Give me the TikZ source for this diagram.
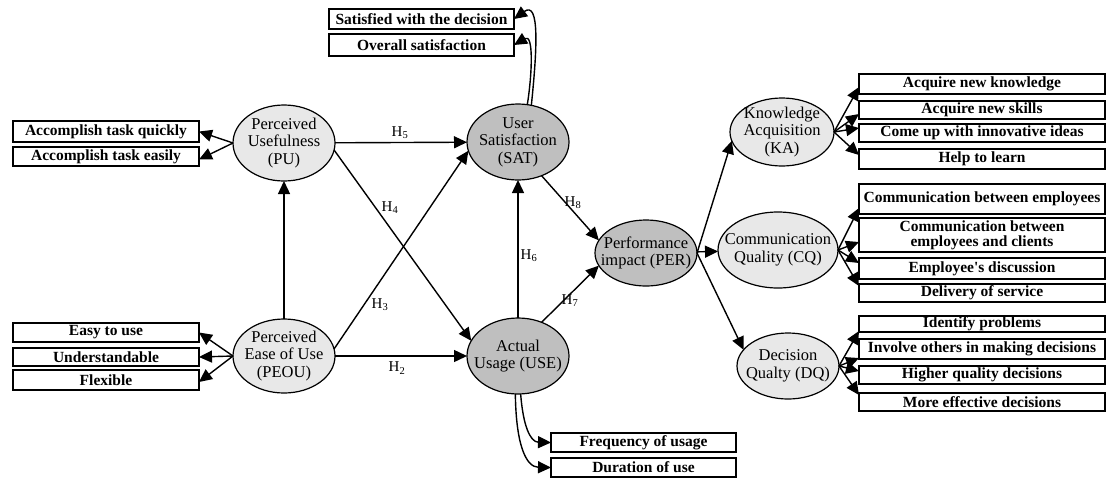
\documentclass[tikz,border=0pt]{standalone}
\usepackage{fontspec}
\setmainfont{Liberation Serif}
\usetikzlibrary{arrows.meta,shapes.geometric,calc}
\begin{document}
\begin{tikzpicture}[x=1pt,y=-1pt,
 ell/.style={ellipse,draw=black,line width=1.2pt,inner sep=0pt,outer sep=0pt},
 lite/.style={ell,fill=black!9},
 dark/.style={ell,fill=black!25},
 etxt/.style={align=center,font=\fontsize{16.5}{17.5}\selectfont,inner sep=0pt},
 bx/.style={draw=black,line width=2.6pt,fill=white,inner sep=0pt,outer sep=0pt,align=center,font=\fontsize{15.5}{15}\selectfont\bfseries},
 lbx/.style={bx,minimum width=186},
 tbx/.style={bx,minimum width=185},
 rbx/.style={bx,minimum width=246},
 arr/.style={line width=1.4pt,-{Triangle[length=13pt,width=12pt]}},
 hl/.style={font=\fontsize{15}{15}\selectfont,inner sep=0pt},
]
\useasboundingbox (0,0) rectangle (1107,480);

% ellipses
\node[lite,minimum width=102,minimum height=76] (pu) at (284,143) {};
\node[etxt] (put) at (pu.center) {Perceived\\Usefulness\\(PU)};
\node[lite,minimum width=102,minimum height=74] (peou) at (284,356) {};
\node[etxt] (peout) at (peou.center) {Perceived\\Ease of Use\\(PEOU)};
\node[dark,minimum width=102,minimum height=76] (sat) at (518,142) {};
\node[etxt] (satt) at (sat.center) {User\\Satisfaction\\(SAT)};
\node[dark,minimum width=102,minimum height=76] (use) at (518,356) {};
\node[etxt] (uset) at (use.center) {Actual\\Usage (USE)};
\node[dark,minimum width=102,minimum height=66] (per) at (646,253) {};
\node[etxt] (pert) at (per.center) {Performance\\impact (PER)};
\node[lite,minimum width=104,minimum height=68] (ka) at (782,132) {};
\node[etxt] (kat) at (ka.center) {Knowledge\\Acquisition\\(KA)};
\node[lite,minimum width=120,minimum height=76] (cq) at (778,250) {};
\node[etxt] (cqt) at (cq.center) {Communication\\Quality (CQ)};
\node[lite,minimum width=102,minimum height=66] (dq) at (788,366) {};
\node[etxt] (dqt) at (dq.center) {Decision\\Qualty (DQ)};

% left boxes
\node[lbx,minimum height=21] (q1) at (106,131.5) {Accomplish task quickly};
\node[lbx,minimum height=19] (q2) at (106,156.5) {Accomplish task easily};
\node[lbx,minimum height=19] (e1) at (106,332.5) {Easy to use};
\node[lbx,minimum height=18] (e2) at (106,357) {Understandable};
\node[lbx,minimum height=20] (e3) at (106,380) {Flexible};
% top boxes
\node[tbx,minimum height=20] (s1) at (421.5,19) {Satisfied with the decision};
\node[tbx,minimum height=22] (s2) at (421.5,45) {Overall satisfaction};
% bottom boxes
\node[tbx,minimum height=19] (f1) at (643.5,442.5) {Frequency of usage};
\node[tbx,minimum height=19] (f2) at (643.5,467.5) {Duration of use};
% right boxes
\node[rbx,minimum height=20] (k1) at (982,84) {Acquire new knowledge};
\node[rbx,minimum height=18] (k2) at (982,110) {Acquire new skills};
\node[rbx,minimum height=18] (k3) at (982,133) {Come up with innovative ideas};
\node[rbx,minimum height=20] (k4) at (982,159) {Help to learn};
\node[rbx,minimum height=30] (c1) at (982,199) {Communication between employees};
\node[rbx,minimum height=34] (c2) at (982,235) {Communication between\\employees and clients};
\node[rbx,minimum height=21] (c3) at (982,268.5) {Employee\textquotesingle s discussion};
\node[rbx,minimum height=18] (c4) at (982,293) {Delivery of service};
\node[rbx,minimum height=16] (d1) at (982,324) {Identify problems};
\node[rbx,minimum height=20] (d2) at (982,349) {Involve others in making decisions};
\node[rbx,minimum height=18] (d3) at (982,375) {Higher quality decisions};
\node[rbx,minimum height=18] (d4) at (982,402) {More effective decisions};

% structural paths
\draw[arr] (peou) -- (pu);
\draw[arr] (pu) -- (sat);
\draw[arr] (pu.-8) -- (use.162);
\draw[arr] (peou.8) -- (sat.190);
\draw[arr] (peou) -- (use);
\draw[arr] (use) -- (sat);
\draw[arr] (sat.-55) -- (per.165);
\draw[arr] (use.55) -- (per.195);
\draw[arr] (per) -- (cq);
\draw[arr] (per.east) -- (ka.190);
\draw[arr] (per.east) -- (dq.160);

% hypothesis labels
\node[hl] (h5) at (400,133) {H\textsubscript{5}};
\node[hl] (h4) at (390,208) {H\textsubscript{4}};
\node[hl] (h3) at (380,305) {H\textsubscript{3}};
\node[hl] (h2) at (397,368) {H\textsubscript{2}};
\node[hl] (h6) at (529,256) {H\textsubscript{6}};
\node[hl] (h8) at (573,203) {H\textsubscript{8}};
\node[hl] (h7) at (570,301) {H\textsubscript{7}};

% indicator arrows
\draw[arr] (pu.west) -- (q1.east);
\draw[arr] (pu.west) -- ([yshift=-3pt]q2.east);
\draw[arr] (peou.west) -- (e1.east);
\draw[arr] (peou.west) -- (e2.east);
\draw[arr] (peou.west) -- ([yshift=-2pt]e3.east);

\draw[arr] (sat.70) .. controls (537,50) and (540,0) .. (s1.east);
\draw[arr] (sat.76) .. controls (532,75) and (534,33) .. (s2.east);

\draw[arr] (use.-86) .. controls (523,425) and (530,442) .. (f1.west);
\draw[arr] (use.-94) .. controls (516,445) and (526,467) .. (f2.west);

\draw[arr] (ka.east) -- ([yshift=-3pt]k1.west);
\draw[arr] (ka.east) -- ([yshift=5pt]k2.south west);
\draw[arr] (ka.east) -- ([yshift=-4pt]k3.north west);
\draw[arr] (ka.east) -- ([yshift=4pt]k4.west);

\draw[arr] (cq.east) -- ([yshift=6pt]c1.south west);
\draw[arr] (cq.east) -- ([yshift=-7pt]c2.west);
\draw[arr] (cq.east) -- ([yshift=-5pt]c3.north west);
\draw[arr] (cq.east) -- ([yshift=-2pt]c4.north west);

\draw[arr] (dq.east) -- ([yshift=1pt]d1.south west);
\draw[arr] (dq.east) -- ([yshift=1pt]d2.south west);
\draw[arr] (dq.east) -- ([yshift=-5pt]d3.north west);
\draw[arr] (dq.east) -- ([yshift=-2pt]d4.north west);
\end{tikzpicture}
\end{document}
